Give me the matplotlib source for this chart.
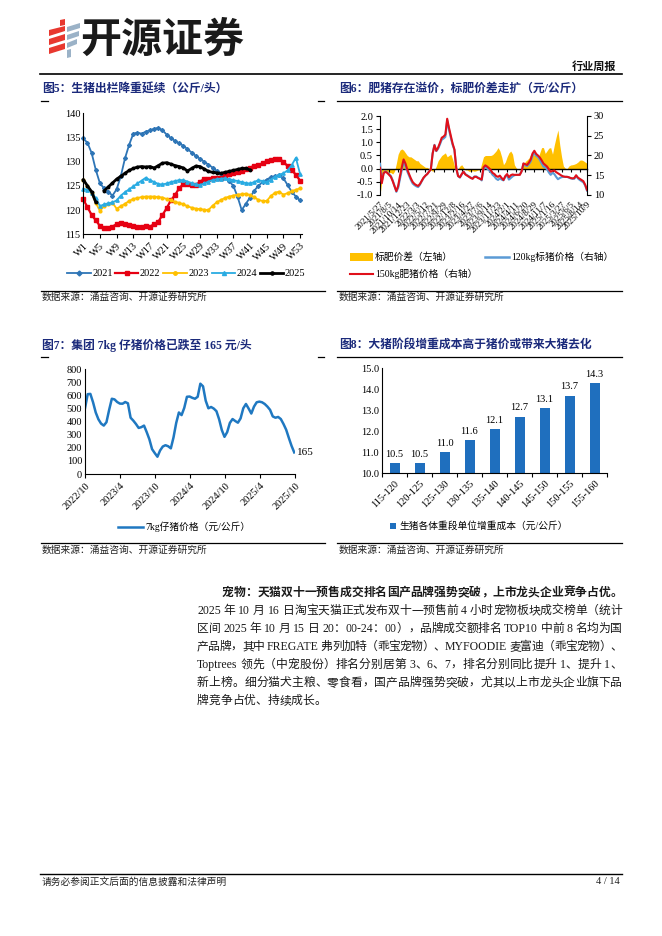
import re
import numpy as np
import pandas as pd
import matplotlib
matplotlib.use("Agg")
import matplotlib.pyplot as plt
from matplotlib.lines import Line2D
from matplotlib.patches import Polygon, Rectangle

W, H = 662, 936
FAM = ['Liberation Serif', 'Noto Sans CJK SC']
plt.rcParams['font.family'] = FAM
plt.rcParams['axes.unicode_minus'] = False

# ---------------- data ----------------
# Fig 5: weekly slaughter weight (kg/head)
week_ticks5 = ['W1', 'W5', 'W9', 'W13', 'W17', 'W21', 'W25', 'W29', 'W33', 'W37', 'W41', 'W45', 'W49', 'W53']
y2021 = [134.8, 133.9, 131.8, 128.3, 125.5, 124.5, 123.8, 123.0, 124.3, 127.0,
         130.7, 133.5, 135.8, 136.0, 135.8, 136.2, 136.5, 136.8, 137.0, 136.5,
         135.6, 134.9, 134.3, 133.8, 133.3, 132.6, 131.9, 131.2, 130.6, 130.0,
         129.4, 128.8, 128.1, 127.5, 126.8, 126.0, 125.0, 122.8, 120.0, 121.3,
         122.6, 124.0, 125.0, 125.8, 126.3, 126.8, 127.0, 127.2, 126.6, 125.2,
         123.8, 122.8, 122.0]
y2022 = [122.2, 120.6, 119.0, 117.9, 116.7, 116.4, 116.2, 116.6, 117.1, 117.3,
         117.1, 116.9, 116.7, 116.6, 116.6, 116.7, 116.6, 117.1, 117.6, 119.0,
         120.4, 122.0, 123.1, 124.5, 125.4, 125.3, 125.1, 125.1, 125.9, 126.4,
         126.4, 126.6, 126.6, 126.7, 127.0, 127.4, 127.7, 127.9, 128.1, 128.4,
         128.8, 129.1, 129.3, 129.7, 130.1, 130.4, 130.6, 130.6, 130.0, 129.1,
         128.3, 127.3, 126.1]
y2023 = [126.2, 125.0, 123.5, 121.5, 119.8, 120.9, 121.3, 121.5, 120.3, 120.8,
         121.3, 121.9, 122.3, 122.5, 122.7, 122.8, 122.8, 122.8, 122.7, 122.6,
         122.3, 122.0, 121.7, 121.5, 121.2, 120.8, 120.5, 120.3, 120.2, 120.1,
         120.0, 120.9, 121.6, 122.1, 122.5, 122.8, 123.0, 123.2, 123.3, 123.4,
         123.1, 122.7, 122.1, 121.9, 121.9, 122.9, 123.6, 123.8, 123.2, 123.5,
         123.9, 124.2, 124.5]
y2024 = [124.4, 124.2, 123.6, 122.5, 120.8, 121.2, 121.4, 121.6, 122.0, 123.0,
         123.7, 124.3, 124.9, 125.5, 126.1, 126.7, 126.2, 125.8, 125.4, 125.3,
         125.5, 125.8, 126.0, 126.2, 126.2, 125.9, 125.6, 125.3, 125.2, 125.5,
         125.9, 126.2, 126.4, 126.5, 126.6, 126.4, 126.2, 126.0, 125.8, 125.6,
         125.5, 125.8, 126.2, 126.0, 125.8, 126.3, 126.9, 127.3, 127.6, 128.2,
         129.3, 130.8, 127.5]
y2025 = [126.3, 125.0, 123.8, 121.6, None, 124.0, 124.8, 125.6, 126.4, 127.0,
         127.6, 128.2, 128.6, 128.9, 129.0, 128.9, 129.0, 128.7, 129.2, 129.7,
         129.8, 129.5, 129.2, 129.0, 128.7, 128.1, 128.6, 129.1, 129.0, 128.5,
         128.0, 127.8, 127.7, 127.6, 127.8, 128.0, 128.2, 128.4, 128.6, 128.6,
         128.3]
years5 = ['2021', '2022', '2023', '2024', '2025']

# Fig 6: fat-standard spread (left) and prices (right), bi-weekly from 2021-05-27
spread6 = [-1.0, -0.5, -0.1, -0.1, -0.1, -0.15, -0.15, -0.2, -0.1, 0.2,
           0.55, 0.7, 0.75, 0.7, 0.6, 0.5, 0.45, 0.45, 0.4, 0.35,
           0.3, 0.3, 0.2, 0.15, 0.1, 0.05, 0.05, 0.0, -0.05, -0.1,
           -0.05, 0.1, 0.3, 0.4, 0.5, 0.55, 0.6, 0.45, 0.5, 0.55,
           0.35, 0.1, -0.05, 0.0, 0.1, 0.15, 0.05, -0.05, -0.05, -0.1,
           -0.1, -0.08, -0.1, -0.08, -0.05, -0.05, 0.2, 0.45, 0.5, 0.5,
           0.5, 0.5, 0.53, 0.6, 0.68, 0.8, 0.68, 0.45, 0.15, 0.25,
           0.45, 0.6, 0.67, 0.55, 0.15, 0.03, -0.02, -0.05, 0.0, 0.12,
           0.27, 0.33, 0.4, 0.55, 0.58, 0.52, 0.48, 0.4, 0.6, 0.8,
           0.8, 0.58, 0.68, 0.78, 0.8, 0.55, 0.9, 1.2, 1.47, 0.9,
           0.45, 0.1, 0.02, 0.0, 0.1, 0.14, 0.15, 0.17, 0.2, 0.25,
           0.32, 0.33, 0.3, 0.25, 0.2]
price150 = [16.9, 13.0, 15.5, 15.9, 15.6, 15.1, 14.6, 13.5, 12.2, 11.0,
            12.3, 14.8, 17.0, 19.0, 18.0, 16.5, 15.3, 14.2, 13.3, 12.8,
            12.5, 12.3, 12.8, 13.6, 14.4, 14.9, 15.3, 15.9, 16.5, 20.5,
            22.6, 21.2, 22.0, 23.2, 24.5, 24.8, 25.3, 29.3, 27.0, 25.0,
            23.0, 21.5, 16.8, 14.8, 14.5, 15.3, 15.9, 15.2, 14.9, 14.6,
            14.3, 14.1, 14.6, 14.6, 14.3, 14.1, 13.9, 17.0, 17.5, 17.2,
            16.8, 16.3, 15.6, 15.3, 14.8, 14.6, 14.9, 14.3, 13.8, 14.8,
            15.3, 14.5, 15.0, 15.2, 15.1, 15.1, 15.1, 15.1, 16.0, 18.0,
            17.8, 17.6, 18.2, 19.0, 20.5, 21.2, 20.4, 20.0, 19.5, 18.8,
            18.0, 17.6, 17.2, 16.5, 15.9, 16.1, 16.2, 15.8, 15.5, 15.2,
            14.9, 14.7, 14.6, 14.6, 14.5, 14.3, 14.2, 14.3, 15.0, 14.4,
            14.1, 13.8, 13.5, 12.6, 11.3]
price120 = [17.9, 13.5, 15.6, 16.0, 15.7, 15.3, 14.8, 13.7, 12.3, 10.8,
            11.8, 14.1, 16.3, 18.3, 17.4, 16.0, 14.9, 13.8, 12.9, 12.5,
            12.2, 12.0, 12.6, 13.5, 14.3, 14.9, 15.3, 15.9, 16.6, 20.6,
            22.7, 21.1, 21.7, 22.8, 24.0, 24.3, 24.7, 28.9, 26.5, 24.5,
            22.7, 21.4, 16.9, 14.8, 14.4, 15.2, 15.9, 15.3, 15.0, 14.7,
            14.4, 14.2, 14.7, 14.7, 14.4, 14.2, 13.7, 16.6, 17.0, 16.7,
            16.3, 15.8, 15.1, 14.7, 14.1, 13.8, 14.2, 13.9, 13.7, 14.6,
            14.9, 13.9, 14.3, 14.7, 15.0, 15.1, 15.1, 15.2, 16.0, 17.9,
            17.5, 17.3, 17.8, 18.5, 19.9, 20.7, 19.9, 19.6, 18.9, 18.0,
            17.2, 17.0, 16.5, 15.7, 15.1, 15.6, 15.3, 14.6, 14.0, 14.3,
            14.5, 14.6, 14.6, 14.6, 14.4, 14.2, 14.1, 14.1, 14.8, 14.2,
            13.8, 13.5, 13.2, 12.4, 11.1]
start6 = '2021-05-27'
legend6 = ['标肥价差（左轴）', '120kg标猪价格（右轴）', '150kg肥猪价格（右轴）']

# Fig 7: 7kg piglet price, bi-weekly from 2022-10-01
piglet = [502, 610, 612, 548, 470, 418, 385, 370, 396, 490,
          575, 570, 550, 538, 537, 550, 540, 430, 408, 382,
          352, 358, 370, 320, 265, 190, 160, 132, 180, 210,
          220, 212, 196, 280, 390, 470, 450, 505, 590, 592,
          582, 575, 590, 690, 670, 560, 502, 512, 500, 480,
          418, 336, 284, 320, 390, 420, 405, 392, 425, 502,
          535, 500, 462, 515, 548, 553, 548, 535, 515, 490,
          440, 430, 436, 420, 382, 338, 275, 215, 165]
start7 = '2022-10-01'
ticks7 = ['2022-10-01', '2023-04-01', '2023-10-01', '2024-04-01', '2024-10-01', '2025-04-01', '2025-10-01']
ticklabels7 = ['2022/10', '2023/4', '2023/10', '2024/4', '2024/10', '2025/4', '2025/10']

# Fig 8: weight-gain cost by weight band
cats8 = ['115-120', '120-125', '125-130', '130-135', '135-140', '140-145', '145-150', '150-155', '155-160']
vals8 = [10.5, 10.5, 11.0, 11.6, 12.1, 12.7, 13.1, 13.7, 14.3]

# ---------------- helpers ----------------
fig = plt.figure(figsize=(W / 100, H / 100), dpi=100)
fig.patch.set_facecolor('white')


def fx(x):
    return x / W


def fy(y):
    return 1 - y / H


def px_axes(x0, y0, x1, y1):
    return fig.add_axes([fx(x0), fy(y1), (x1 - x0) / W, (y1 - y0) / H])


def ftext(x, y, s, **kw):
    kw.setdefault('va', 'center')
    return fig.text(fx(x), fy(y), s, **kw)


def fline(x0, x1, y0, y1=None, **kw):
    if y1 is None:
        y1 = y0
    fig.add_artist(Line2D([fx(x0), fx(x1)], [fy(y0), fy(y1)], transform=fig.transFigure, **kw))


def fmarker(x, y, **kw):
    fig.add_artist(Line2D([fx(x)], [fy(y)], transform=fig.transFigure, ls='none', **kw))


def style(ax):
    for s in ['top', 'right']:
        ax.spines[s].set_visible(False)
    for s in ['left', 'bottom']:
        ax.spines[s].set_linewidth(0.8)
        ax.spines[s].set_color('black')
    ax.tick_params(labelsize=7.5, length=3, width=0.8, colors='black', pad=2)
    ax.patch.set_alpha(0)


TITLE_C = '#1B2A7B'
SRC = '数据来源：涌益咨询、开源证券研究所'

# ---------------- header ----------------
red = '#E8382F'
blu = '#9BB2C7'
for pts, c in [([(60, 20), (65, 19), (65, 25), (60, 26)], red),
               ([(49, 30), (65, 26), (65, 31), (49, 36)], red),
               ([(49, 39), (65, 34), (65, 40), (49, 45)], red),
               ([(49, 48), (65, 43), (65, 49), (49, 54)], red),
               ([(67, 27), (80, 23), (80, 28), (67, 32)], blu),
               ([(67, 35), (79, 31), (79, 36), (67, 40)], blu),
               ([(67, 43), (77, 39), (77, 44), (67, 48)], blu),
               ([(67, 50), (71, 49), (71, 57), (67, 58)], blu)]:
    fig.add_artist(Polygon([(fx(a), fy(b)) for a, b in pts], closed=True,
                           transform=fig.transFigure, color=c, lw=0))
ftext(80, 40, '开源证券', fontsize=29.5, fontweight='bold', family='Noto Sans CJK SC',
      color='#1a1a1a', ha='left')
ftext(616, 67, '行业周报', fontsize=8, fontweight='bold', ha='right', color='#111111')
fline(40, 622, 74, color='black', lw=1.2)

# ---------------- Fig 5 ----------------
ftext(42, 89, '图5：生猪出栏降重延续（公斤/头）', fontsize=8.5, fontweight='bold', color=TITLE_C, ha='left')
fline(41, 48, 100.5, color='black', lw=0.9)
fline(318, 324, 100.5, color='black', lw=0.9)
ax5 = px_axes(83.3, 113.3, 301.7, 234.3)
style(ax5)
styles5 = [(y2021, '#2E75B6', 'D', 2.0, 1.3),
           (y2022, '#E60012', 's', 3.0, 1.6),
           (y2023, '#FFC000', 'o', 2.0, 1.3),
           (y2024, '#29ABE2', '^', 2.4, 1.3),
           (y2025, 'black', 'o', 1.8, 2.0)]
for ys, c, m, ms, lw in styles5:
    arr = np.array(ys, dtype=float)
    wk = np.arange(1, len(arr) + 1)
    ax5.plot(wk, arr, color=c, marker=m, ms=ms, lw=lw, mec=c, mfc=c, clip_on=False)
ax5.set_xlim(1, 53.4)
ax5.set_ylim(115, 140)
ax5.set_yticks(np.arange(115, 141, 5))
ax5.set_xticks([int(t[1:]) for t in week_ticks5])
ax5.set_xticklabels(week_ticks5, rotation=45, ha='right', rotation_mode='anchor')
ax5.tick_params(axis='y', length=0)
leg5 = [(67, 91), (115, 138), (163, 187), (212, 235), (260, 283)]
for (x0, x1), (ys, c, m, ms, lw), lab in zip(leg5, styles5, years5):
    fline(x0, x1, 273, color=c, lw=lw)
    fmarker((x0 + x1) / 2, 273, marker=m, ms=ms + 0.5, color=c)
    ftext(x1 + 2, 273.5, lab, fontsize=7.5, ha='left')
fline(41, 325, 290.5, color='black', lw=0.9)
ftext(42, 297.5, SRC, fontsize=7, ha='left', color='#222222')

# ---------------- Fig 6 ----------------
ftext(339, 89, '图6：肥猪存在溢价，标肥价差走扩（元/公斤）', fontsize=8.5, fontweight='bold', color=TITLE_C, ha='left')
fline(337, 622, 100.5, color='black', lw=0.9)
dates6 = pd.date_range(start6, periods=len(spread6), freq='14D')
ax6 = px_axes(380, 116, 587, 195)
ax6.patch.set_alpha(0)
ax6.fill_between(dates6, spread6, 0, color='#FFC000', lw=0)
ax6.set_ylim(-1, 2)
ax6.set_yticks(np.arange(-1, 2.01, 0.5))
ax6.set_yticklabels([f'{v:.1f}' for v in np.arange(-1, 2.01, 0.5)])
ax6.set_xlim(dates6[0], dates6[-1])
for s in ['top', 'right']:
    ax6.spines[s].set_visible(False)
ax6.spines['bottom'].set_position(('data', 0))
ax6.spines['bottom'].set_linewidth(1.0)
ax6.spines['left'].set_linewidth(0.8)
tick_idx6 = list(range(0, 111, 5)) + [len(dates6) - 1]
ax6.set_xticks([dates6[i] for i in tick_idx6])
ax6.set_xticklabels([f'{dates6[i].year}/{dates6[i].month}/{dates6[i].day}' for i in tick_idx6],
                    rotation=45, ha='right', rotation_mode='anchor', fontsize=6.5)
ax6.tick_params(axis='x', length=2, width=0.8, pad=21)
ax6.tick_params(axis='y', labelsize=7.5, length=3, width=0.8, pad=2)
ax6r = ax6.twinx()
ax6r.plot(dates6, price120, color='#5B9BD5', lw=1.5)
ax6r.plot(dates6, price150, color='#E0101A', lw=1.5)
ax6r.set_ylim(10, 30)
ax6r.set_yticks(np.arange(10, 31, 5))
for s in ['top', 'left', 'bottom']:
    ax6r.spines[s].set_visible(False)
ax6r.spines['right'].set_linewidth(0.8)
ax6r.tick_params(axis='y', labelsize=7.5, length=3, width=0.8, pad=2)
# legend
fig.add_artist(Rectangle((fx(350), fy(261)), 23 / W, 8 / H, transform=fig.transFigure, color='#FFC000', lw=0))
ftext(375, 257, legend6[0], fontsize=7, ha='left')
fline(485, 509, 257, color='#5B9BD5', lw=1.8)
ftext(511, 257, legend6[1], fontsize=7, ha='left')
fline(350, 373, 274, color='#E0101A', lw=1.5)
ftext(375, 274, legend6[2], fontsize=7, ha='left')
fline(337, 622, 290.5, color='black', lw=0.9)
ftext(339, 297.5, SRC, fontsize=7, ha='left', color='#222222')

# ---------------- Fig 7 ----------------
ftext(42, 345, '图7：集团 7kg 仔猪价格已跌至 165 元/头', fontsize=8.5, fontweight='bold', color=TITLE_C, ha='left')
fline(41, 48, 357, color='black', lw=0.9)
fline(318, 324, 357, color='black', lw=0.9)
dates7 = pd.date_range(start7, periods=len(piglet), freq='14D')
ax7 = px_axes(85, 369.3, 295, 474)
style(ax7)
ax7.plot(dates7, piglet, color='#1F78C1', lw=1.8)
ax7.set_ylim(0, 800)
ax7.set_yticks(np.arange(0, 801, 100))
ax7.set_xlim(pd.Timestamp(ticks7[0]), pd.Timestamp(ticks7[-1]))
ax7.set_xticks(pd.to_datetime(ticks7))
ax7.set_xticklabels(ticklabels7, rotation=45, ha='right', rotation_mode='anchor')
ax7.tick_params(axis='y', length=0)
ax7.annotate(f'{piglet[-1]}', xy=(dates7[-1], piglet[-1]), xytext=(2, 0), textcoords='offset points',
             va='center', ha='left', fontsize=8, annotation_clip=False)
fline(118, 143, 527, color='#1F78C1', lw=1.8)
ftext(145, 527, '7kg仔猪价格（元/公斤）', fontsize=7, ha='left')
fline(41, 325, 543, color='black', lw=0.9)
ftext(42, 550, SRC, fontsize=7, ha='left', color='#222222')

# ---------------- Fig 8 ----------------
ftext(339, 345, '图8：大猪阶段增重成本高于猪价或带来大猪去化', fontsize=8.5, fontweight='bold', color=TITLE_C, ha='left')
fline(337, 622, 357, color='black', lw=0.9)
ax8 = px_axes(382, 368.3, 607, 473.3)
style(ax8)
bars = ax8.bar(cats8, vals8, width=0.4, color='#1F6FBE')
for b, v in zip(bars, vals8):
    ax8.annotate(f'{v:.1f}', xy=(b.get_x() + b.get_width() / 2, v), xytext=(0, 3),
                 textcoords='offset points', ha='center', va='bottom', fontsize=7.5)
ax8.set_ylim(10, 15)
ax8.set_xlim(-0.5, len(cats8) - 0.5)
ax8.set_yticks(np.arange(10, 15.01, 1))
ax8.set_yticklabels([f'{v:.1f}' for v in np.arange(10, 15.01, 1)])
ax8.set_xticks(range(len(cats8)))
ax8.set_xticklabels(cats8, rotation=45, ha='right', rotation_mode='anchor')
ax8.set_xticks(np.arange(-0.5, len(cats8), 1), minor=True)
ax8.tick_params(axis='x', which='major', length=0, pad=4)
ax8.tick_params(axis='x', which='minor', length=3, width=0.8)
ax8.tick_params(axis='y', length=0)
fig.add_artist(Rectangle((fx(390), fy(528.5)), 6 / W, 6 / H, transform=fig.transFigure, color='#1F6FBE', lw=0))
ftext(399, 525.5, '生猪各体重段单位增重成本（元/公斤）', fontsize=7, ha='left')
fline(337, 622, 543, color='black', lw=0.9)
ftext(339, 550, SRC, fontsize=7, ha='left', color='#222222')

# ---------------- body text ----------------
renderer = fig.canvas.get_renderer()
body = [
    ('宠物：天猫双十一预售成交排名国产品牌强势突破，上市龙头企业竞争占优。', 222, True, 'bold'),
    ('2025 年 10 月 16 日淘宝天猫正式发布双十一预售前 4 小时宠物板块成交榜单（统计', 197, True, 'normal'),
    ('区间 2025 年 10 月 15 日 20：00-24：00），品牌成交额排名 TOP10 中前 8 名均为国', 197, True, 'normal'),
    ('产品牌，其中 FREGATE 弗列加特（乖宝宠物）、MYFOODIE 麦富迪（乖宝宠物）、', 197, True, 'normal'),
    ('Toptrees 领先（中宠股份）排名分别居第 3、6、7，排名分别同比提升 1、提升 1、', 197, True, 'normal'),
    ('新上榜。细分猫犬主粮、零食看，国产品牌强势突破，尤其以上市龙头企业旗下品', 197, True, 'normal'),
    ('牌竞争占优、持续成长。', 197, False, 'normal'),
]
SPACE_W = 3.0
y = 593
for line, x0, just, wt in body:
    toks = re.findall(r'[A-Za-z0-9\-:.]+| |\S', line)
    items = []
    for t in toks:
        if t == ' ':
            items.append((None, SPACE_W))
        else:
            tt = ftext(0, y, t, fontsize=8.5, fontweight=wt, ha='left', color='#1a1a1a')
            items.append((tt, tt.get_window_extent(renderer).width))
    n_gaps = len(items) - 1
    gap = (622 - x0 - sum(w for _, w in items)) / n_gaps if just else 0.0
    xx = x0
    for tt, w in items:
        if tt is not None:
            tt.set_x(fx(xx))
        xx += w + gap
    y += 18

# ---------------- footer ----------------
fline(40, 622, 874, color='black', lw=1.0)
ftext(42, 882, '请务必参阅正文后面的信息披露和法律声明', fontsize=7, ha='left', color='#222222')
ftext(620, 882, '4 / 14', fontsize=7.5, ha='right', color='#222222')

fig.savefig('out.png', dpi=100, facecolor='white')
